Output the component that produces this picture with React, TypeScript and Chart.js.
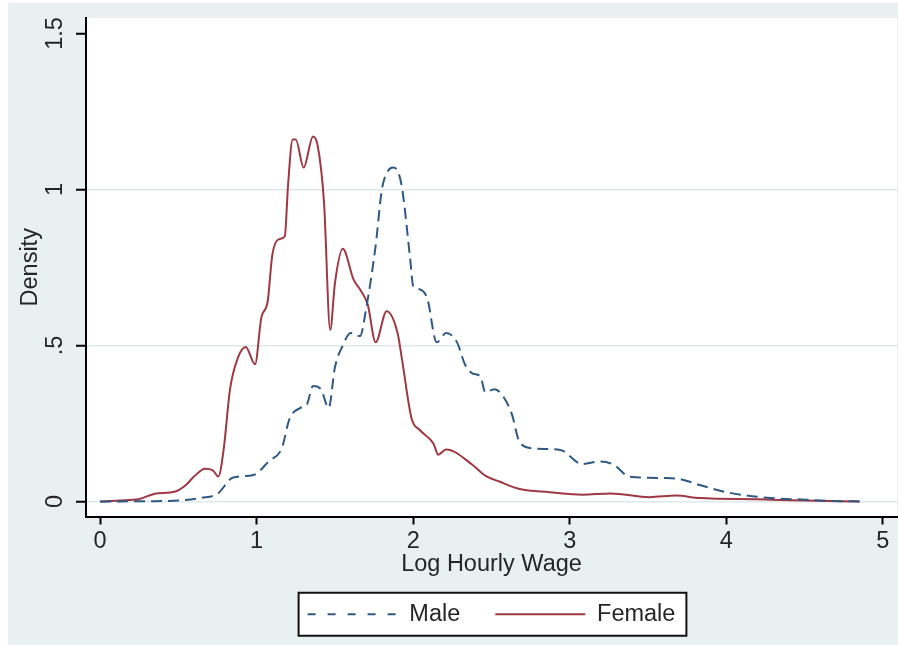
import React, { useEffect, useRef } from "react";
import { Chart, registerables } from "chart.js";

Chart.register(...registerables);

const maleX = [0, 0.3, 0.5, 0.65, 0.75, 0.85, 0.98, 1.08, 1.16, 1.21, 1.28, 1.32, 1.36, 1.41, 1.46, 1.5, 1.55, 1.6, 1.66, 1.7, 1.76, 1.8, 1.84, 1.87, 1.9, 1.93, 1.98, 2.0, 2.04, 2.09, 2.15, 2.21, 2.28, 2.33, 2.38, 2.43, 2.46, 2.52, 2.57, 2.63, 2.68, 2.77, 2.94, 3.08, 3.19, 3.28, 3.38, 3.62, 3.72, 3.83, 4.0, 4.26, 4.5, 4.68, 4.88];
const maleY = [0, 0.001, 0.003, 0.012, 0.025, 0.077, 0.085, 0.13, 0.17, 0.265, 0.3, 0.31, 0.37, 0.36, 0.3, 0.43, 0.5, 0.54, 0.53, 0.62, 0.82, 1.0, 1.06, 1.07, 1.06, 1.0, 0.78, 0.69, 0.68, 0.65, 0.51, 0.54, 0.51, 0.44, 0.41, 0.4, 0.35, 0.36, 0.34, 0.28, 0.19, 0.17, 0.165, 0.12, 0.128, 0.118, 0.08, 0.075, 0.07, 0.053, 0.03, 0.012, 0.006, 0.002, 0];

const femaleX = [0, 0.12, 0.25, 0.35, 0.48, 0.55, 0.6, 0.67, 0.72, 0.755, 0.79, 0.83, 0.88, 0.93, 0.99, 1.03, 1.07, 1.1, 1.14, 1.18, 1.2, 1.23, 1.25, 1.3, 1.36, 1.39, 1.43, 1.47, 1.5, 1.55, 1.62, 1.66, 1.71, 1.76, 1.83, 1.9, 1.93, 1.99, 2.04, 2.13, 2.16, 2.21, 2.38, 2.46, 2.55, 2.68, 2.87, 3.08, 3.26, 3.51, 3.68, 3.83, 4.2, 4.5, 4.85];
const femaleY = [0, 0.003, 0.008, 0.025, 0.032, 0.054, 0.08, 0.105, 0.1, 0.08, 0.17, 0.36, 0.46, 0.495, 0.44, 0.59, 0.64, 0.79, 0.84, 0.85, 1.01, 1.16, 1.16, 1.07, 1.17, 1.14, 0.96, 0.55, 0.7, 0.81, 0.71, 0.68, 0.63, 0.51, 0.61, 0.54, 0.45, 0.265, 0.23, 0.185, 0.15, 0.167, 0.117, 0.083, 0.064, 0.04, 0.03, 0.022, 0.026, 0.014, 0.019, 0.011, 0.007, 0.003, 0];

const xTicks = [0, 1, 2, 3, 4, 5];
const yTicks = [0, 0.5, 1, 1.5];
const yTickLabels = ["0", ".5", "1", "1.5"];
const seriesLabels = ["Male", "Female"];

const FONT = "'Liberation Sans', Arial, Helvetica, sans-serif";
const FS = 23.5;
const OUTER_BG = "#e8f0f2";
const GRID = "#dde8eb";
const MALE_COLOR = "#2f5883";
const FEMALE_COLOR = "#9e3843";
const TEXT = "#262626";

const bgPlugin = {
  id: "stataBackground",
  beforeDraw(chart: any) {
    const { ctx, chartArea } = chart;
    ctx.save();
    ctx.fillStyle = "#ffffff";
    ctx.fillRect(0, 0, chart.width, chart.height);
    ctx.fillStyle = OUTER_BG;
    ctx.fillRect(8, 3, chart.width - 8, chart.height - 3);
    ctx.fillStyle = "#ffffff";
    ctx.fillRect(chartArea.left, chartArea.top, chartArea.right - chartArea.left, chartArea.bottom - chartArea.top);
    const legend = chart.legend;
    if (legend && legend.legendHitBoxes && legend.legendHitBoxes.length) {
      const boxes = legend.legendHitBoxes;
      const first = boxes[0];
      const last = boxes[boxes.length - 1];
      const cy = first.top + first.height / 2;
      const l = first.left - 9;
      const r = last.left + last.width + 11;
      const t = cy - 21.5;
      const b = cy + 21.5;
      ctx.fillStyle = "#ffffff";
      ctx.fillRect(l, t, r - l, b - t);
      ctx.strokeStyle = "#111111";
      ctx.lineWidth = 2;
      ctx.strokeRect(l, t, r - l, b - t);
    }
    ctx.restore();
  },
};

export default function App() {
  const ref = useRef<HTMLCanvasElement | null>(null);
  useEffect(() => {
    if (!ref.current) return;
    const chart = new Chart(ref.current, {
      type: "line",
      data: {
        datasets: [
          {
            label: seriesLabels[0],
            data: maleX.map((x, i) => ({ x, y: maleY[i] })),
            borderColor: MALE_COLOR,
            backgroundColor: MALE_COLOR,
            borderWidth: 2,
            borderDash: [11, 6],
            pointRadius: 0,
            fill: false,
            cubicInterpolationMode: "monotone",
          },
          {
            label: seriesLabels[1],
            data: femaleX.map((x, i) => ({ x, y: femaleY[i] })),
            borderColor: FEMALE_COLOR,
            backgroundColor: FEMALE_COLOR,
            borderWidth: 2,
            pointRadius: 0,
            fill: false,
            cubicInterpolationMode: "monotone",
          },
        ],
      },
      options: {
        responsive: false,
        animation: false,
        events: [],
        layout: { padding: { left: 8, top: 15, right: 1, bottom: 9 } },
        scales: {
          x: {
            type: "linear",
            min: -0.09,
            max: 5.09,
            afterBuildTicks: (scale: any) => {
              scale.ticks = xTicks.map((v) => ({ value: v }));
            },
            afterFit: (scale: any) => {
              scale.height = 51;
            },
            ticks: {
              color: TEXT,
              font: { family: FONT, size: FS },
              padding: 3,
              maxRotation: 0,
              autoSkip: false,
              callback: (v: any) => String(v),
            },
            grid: {
              drawOnChartArea: false,
              tickLength: 8,
              tickColor: "#000000",
              tickWidth: 2,
            },
            border: { color: "#000000", width: 2 },
            title: {
              display: true,
              text: "Log Hourly Wage",
              color: TEXT,
              font: { family: FONT, size: FS },
              padding: { top: 0, bottom: -11 },
            },
          },
          y: {
            type: "linear",
            min: -0.048,
            max: 1.549,
            afterBuildTicks: (scale: any) => {
              scale.ticks = yTicks.map((v) => ({ value: v }));
            },
            afterFit: (scale: any) => {
              scale.width = 78;
            },
            ticks: {
              color: TEXT,
              font: { family: FONT, size: FS },
              padding: 4,
              minRotation: 90,
              maxRotation: 90,
              crossAlign: "center",
              autoSkip: false,
              callback: (_v: any, i: number) => yTickLabels[i],
            },
            grid: {
              color: (c: any) => (c.tick && c.tick.value === 1.5 ? "rgba(0,0,0,0)" : GRID),
              lineWidth: 1.5,
              tickLength: 10,
              tickColor: "#000000",
              tickWidth: 2,
            },
            border: { color: "#000000", width: 2 },
            title: {
              display: true,
              text: "Density",
              color: TEXT,
              font: { family: FONT, size: FS },
              padding: { top: 8, bottom: 0 },
            },
          },
        },
        plugins: {
          tooltip: { enabled: false },
          legend: {
            display: true,
            position: "bottom",
            fullSize: false,
            labels: {
              usePointStyle: true,
              pointStyle: "line",
              pointStyleWidth: 90,
              boxWidth: 90,
              padding: 35,
              color: TEXT,
              font: { family: FONT, size: FS },
              generateLabels: (ch: any) => {
                const items = Chart.defaults.plugins.legend.labels.generateLabels(ch);
                items.forEach((it: any, i: number) => {
                  it.lineWidth = 2;
                  it.lineDash = i === 0 ? [8, 12] : [];
                  it.pointStyle = "line";
                });
                return items;
              },
            },
          },
        },
      },
      plugins: [bgPlugin],
    } as any);
    return () => chart.destroy();
  }, []);
  return (
    <div style={{ position: "absolute", left: 0, top: 0, width: 898, height: 645 }}>
      <canvas ref={ref} width={898} height={645} style={{ display: "block" }} />
    </div>
  );
}
